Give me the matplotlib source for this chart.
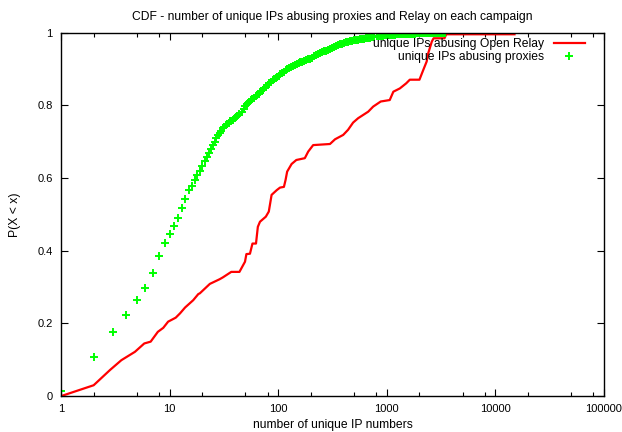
import matplotlib
matplotlib.use("Agg")
import matplotlib.pyplot as plt
from matplotlib.ticker import LogLocator, FixedLocator, NullFormatter

plt.rcParams['font.family'] = ['Liberation Sans', 'DejaVu Sans']

# CDF of unique IPs abusing proxies (one marker per distinct count)
proxy_x = [1, 2, 3, 4, 5, 6, 7, 8, 9, 10, 11, 12, 13, 14, 15, 16, 17, 18, 19, 20,
           21, 22, 23, 24, 25, 26, 27, 28, 29, 30, 31, 32, 33, 34, 35, 36, 37, 38,
           40, 42, 44, 46, 48, 50, 52, 54, 56, 58, 60, 62, 64, 66, 68, 70, 72, 74,
           77, 80, 83, 86, 89, 92, 95, 98, 101, 105, 109, 113, 117, 121, 126, 131,
           136, 142, 148, 154, 160, 167, 174, 181, 189, 197, 205, 214, 223, 232,
           242, 252, 263, 275, 287, 300, 313, 327, 341, 356, 372, 388, 405, 423,
           442, 461, 481, 502, 524, 547, 571, 596, 622, 650, 678, 708, 739, 771,
           805, 840, 877, 916, 956, 998, 1042, 1088, 1136, 1186, 1238, 1292, 1349,
           1408, 1470, 1535, 1602, 1672, 1746, 1822, 1902, 1986, 2073, 2164, 2259,
           2358, 2462, 2570, 2683, 2800, 2923, 3051, 3185, 3325, 3437]
proxy_y = [0.015, 0.108, 0.176, 0.224, 0.264, 0.298, 0.339, 0.386, 0.422, 0.447,
           0.469, 0.490, 0.518, 0.544, 0.567, 0.579, 0.594, 0.608, 0.620, 0.633,
           0.647, 0.658, 0.669, 0.680, 0.690, 0.700, 0.710, 0.718, 0.724, 0.731,
           0.737, 0.742, 0.746, 0.750, 0.753, 0.756, 0.758, 0.761,
           0.766, 0.771, 0.777, 0.783, 0.790, 0.798, 0.804, 0.809, 0.814, 0.818,
           0.822, 0.826, 0.829, 0.833, 0.837, 0.840, 0.844, 0.847,
           0.852, 0.857, 0.862, 0.866, 0.870, 0.873, 0.876, 0.879, 0.882, 0.886,
           0.890, 0.893, 0.897, 0.900, 0.903, 0.906,
           0.909, 0.912, 0.915, 0.917, 0.919, 0.921, 0.923, 0.925, 0.927, 0.929,
           0.932, 0.936, 0.939, 0.942,
           0.945, 0.947, 0.949, 0.951, 0.953, 0.956, 0.959, 0.962, 0.964, 0.966,
           0.968, 0.970, 0.972, 0.974,
           0.976, 0.977, 0.978, 0.979, 0.980, 0.981, 0.982, 0.983, 0.984, 0.985,
           0.986, 0.987, 0.988, 0.989,
           0.990, 0.991, 0.991, 0.992, 0.993, 0.993, 0.994, 0.994, 0.995, 0.995,
           0.996, 0.996, 0.996,
           0.997, 0.997, 0.997, 0.998, 0.998, 0.998, 0.998, 0.999, 0.999, 0.999,
           0.999, 0.999,
           0.999, 1.0, 1.0, 1.0, 1.0, 1.0, 1.0, 1.0, 1.0, 1.0]

# CDF of unique IPs abusing open relays (step outline)
relay_x = [1, 2, 2.83, 3.6, 4.8, 5.85, 6.7, 7.8, 8.75, 9.7, 11.4, 12.5, 13.9, 16.5,
           18.4, 19, 23.5, 29, 31, 37, 44, 49.5, 51, 55, 58, 62.5, 65, 68, 77, 82,
           87, 97, 104, 113, 117, 121, 133, 147, 176, 189, 210, 300, 334, 397,
           440, 490, 545, 675, 750, 880, 1065, 1150, 1320, 1510, 1630, 2000,
           2170, 2330, 2410, 2600, 2700, 3400, 3530, 15000]
relay_y = [0.0, 0.030, 0.072, 0.099, 0.122, 0.145, 0.150, 0.177, 0.188, 0.205,
           0.216, 0.228, 0.244, 0.264, 0.281, 0.283, 0.309, 0.322, 0.327, 0.342,
           0.342, 0.370, 0.391, 0.392, 0.420, 0.420, 0.466, 0.480, 0.494, 0.508,
           0.554, 0.567, 0.574, 0.576, 0.595, 0.618, 0.639, 0.650, 0.655, 0.673,
           0.691, 0.694, 0.707, 0.719, 0.733, 0.753, 0.765, 0.783, 0.797, 0.811,
           0.815, 0.838, 0.847, 0.861, 0.871, 0.871, 0.898, 0.921, 0.944, 0.976,
           0.985, 0.985, 0.996, 0.996]

fig = plt.figure(figsize=(6.22, 4.32), dpi=100)
ax = fig.add_axes([0.098, 0.083, 0.873, 0.841])

ax.plot(relay_x, relay_y, color='#ff0000', linewidth=1.6,
        label='unique IPs abusing Open Relay')
ax.plot(proxy_x, proxy_y, linestyle='none', marker='+', markersize=5.5,
        markeredgewidth=1.4, color='#00ff00', label='unique IPs abusing proxies')

ax.set_xscale('log')
ax.set_xlim(1, 100000)
ax.set_ylim(0, 1)
ax.xaxis.set_major_locator(FixedLocator([1, 10, 100, 1000, 10000, 100000]))
ax.set_xticklabels(['1', '10', '100', '1000', '10000', '100000'])
ax.xaxis.set_minor_locator(LogLocator(base=10, subs=[2, 5, 8]))
ax.xaxis.set_minor_formatter(NullFormatter())
ax.set_yticks([0, 0.2, 0.4, 0.6, 0.8, 1.0])
ax.set_yticklabels(['0', '0.2', '0.4', '0.6', '0.8', '1'])

ax.tick_params(which='both', direction='in', top=True, right=True,
               labelsize=8.0, pad=6)
ax.tick_params(which='major', length=5, width=0.8)
ax.tick_params(which='minor', length=3, width=0.8)
for s in ax.spines.values():
    s.set_linewidth(1.0)

ax.set_title('CDF - number of unique IPs abusing proxies and Relay on each campaign',
             fontsize=8.7, pad=9)
ax.set_xlabel('number of unique IP numbers', fontsize=8.7, labelpad=3)
ax.set_ylabel('P(X < x)', fontsize=8.7, labelpad=12)

leg = ax.legend(loc='upper right', bbox_to_anchor=(0.965, 0.985), frameon=False,
                fontsize=8.7, markerfirst=False, handlelength=2.6,
                borderpad=0.0, borderaxespad=0.0, labelspacing=0.05,
                handletextpad=0.75)
for t in leg.get_texts():
    t.set_ha('right')
leg._legend_box.align = 'right'

fig.savefig('out.png', dpi=100)
